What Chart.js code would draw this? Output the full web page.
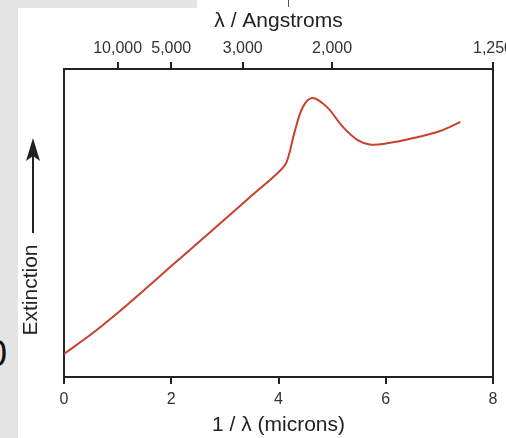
<!DOCTYPE html>
<html>
<head>
<meta charset="utf-8">
<script src="https://cdn.jsdelivr.net/npm/chart.js@4/dist/chart.umd.min.js"></script>
<style>
    html, body { margin: 0; padding: 0; background: #fff; overflow: hidden; }
    #page { position: relative; width: 506px; height: 438px; }
    .gray { position: absolute; background: #e4e4e4; }
    #stray { position: absolute; left: -13px; top: 333px; font: 36px "Liberation Sans", Arial, sans-serif; color: #111; }
    #tick { position: absolute; left: 288px; top: 0; width: 1px; height: 7px; background: #555; }
    canvas { position: absolute; left: 0; top: 0; }
</style>
</head>
<body>
<div id="page">
    <div class="gray" style="left:0;top:0;width:18px;height:438px"></div>
    <div class="gray" style="left:0;top:0;width:197px;height:8px"></div>
    <span id="stray">0</span>
    <div id="tick"></div>
    <canvas id="chart" width="506" height="438"></canvas>
</div>
<script>
    const xMicrons   = [0, 0.5, 1, 1.5, 2, 2.5, 3, 3.5, 4, 4.15, 4.3, 4.45, 4.63, 4.9, 5.2, 5.47, 5.7, 6.0, 6.5, 7.0, 7.39];
    const extinction = [7.5, 13.8, 20.8, 28.3, 36.0, 43.6, 51.2, 58.9, 66.5, 69.8, 79.5, 87.5, 90.6, 87.7, 81.2, 77, 75.5, 75.8, 77.5, 79.8, 82.8];

    const bottomTicks = [0, 2, 4, 6, 8];
    const angstromTicks = [10000, 5000, 3000, 2000, 1250];
    const angstromLabels = ['10,000', '5,000', '3,000', '2,000', '1,250'];

    const FONT = '"Liberation Sans", Arial, Helvetica, sans-serif';
    const INK = '#222';

    const points = xMicrons.map((x, i) => ({ x, y: extinction[i] }));

    // y label with the arrow pointing up
    const extinctionLabel = {
        id: 'extinctionLabel',
        afterDraw(chart) {
            const ctx = chart.ctx;
            ctx.save();
            ctx.fillStyle = INK;
            ctx.translate(31, 290);
            ctx.rotate(-Math.PI / 2);
            ctx.font = '21px ' + FONT;
            ctx.textAlign = 'center';
            ctx.textBaseline = 'middle';
            ctx.fillText('Extinction', 0, 0);
            ctx.restore();

            ctx.save();
            ctx.strokeStyle = INK;
            ctx.fillStyle = INK;
            ctx.lineWidth = 2;
            ctx.beginPath();
            ctx.moveTo(33, 233);
            ctx.lineTo(33, 156);
            ctx.stroke();
            ctx.beginPath();
            ctx.moveTo(33, 138);
            ctx.lineTo(40, 161);
            ctx.lineTo(33, 156);
            ctx.lineTo(26, 161);
            ctx.closePath();
            ctx.fill();
            ctx.restore();
        }
    };

    new Chart(document.getElementById('chart'), {
        type: 'scatter',
        data: {
            datasets: [{
                data: points,
                showLine: true,
                borderColor: '#c9402b',
                borderWidth: 2,
                pointRadius: 0,
                tension: 0.35,
                xAxisID: 'x',
                yAxisID: 'y',
            }],
        },
        options: {
            responsive: false,
            animation: false,
            layout: { padding: { left: 0, right: 13, top: 0, bottom: 0 } },
            plugins: { legend: { display: false }, tooltip: { enabled: false } },
            scales: {
                x: {
                    type: 'linear',
                    position: 'bottom',
                    min: 0,
                    max: 8,
                    afterBuildTicks: (s) => { s.ticks = bottomTicks.map((v) => ({ value: v })); },
                    afterFit: (s) => { s.height = 61; s.paddingLeft = 0; s.paddingRight = 0; },
                    grid: { drawOnChartArea: false, drawTicks: true, tickLength: 7, color: INK, lineWidth: 2 },
                    border: { display: true, color: INK, width: 2 },
                    ticks: { color: '#333', font: { family: FONT, size: 16 }, padding: 6, maxRotation: 0 },
                    title: { display: true, text: '1 / λ (microns)', color: '#222', font: { family: FONT, size: 21 }, padding: { top: 0, bottom: 0 } },
                },
                x2: {
                    type: 'linear',
                    position: 'top',
                    min: 0,
                    max: 8,
                    afterBuildTicks: (s) => { s.ticks = angstromTicks.map((a) => ({ value: 10000 / a })); },
                    afterFit: (s) => { s.height = 69; s.paddingLeft = 0; s.paddingRight = 0; },
                    grid: { drawOnChartArea: false, drawTicks: true, tickLength: 7, color: INK, lineWidth: 2 },
                    border: { display: true, color: INK, width: 2 },
                    ticks: {
                        color: '#333',
                        font: { family: FONT, size: 16 },
                        padding: 4,
                        maxRotation: 0,
                        autoSkip: false,
                        callback: (v, i) => angstromLabels[i],
                    },
                    title: { display: true, text: 'λ / Angstroms', color: '#222', font: { family: FONT, size: 21 }, padding: { top: 9, bottom: 0 } },
                },
                y: {
                    type: 'linear',
                    position: 'left',
                    min: 0,
                    max: 100,
                    afterFit: (s) => { s.width = 64; },
                    grid: { display: false },
                    border: { display: true, color: INK, width: 2 },
                    ticks: { display: false },
                },
                y2: {
                    type: 'linear',
                    position: 'right',
                    min: 0,
                    max: 100,
                    afterFit: (s) => { s.width = 0; },
                    grid: { display: false },
                    border: { display: true, color: INK, width: 2 },
                    ticks: { display: false },
                },
            },
        },
        plugins: [extinctionLabel],
    });
</script>
</body>
</html>
